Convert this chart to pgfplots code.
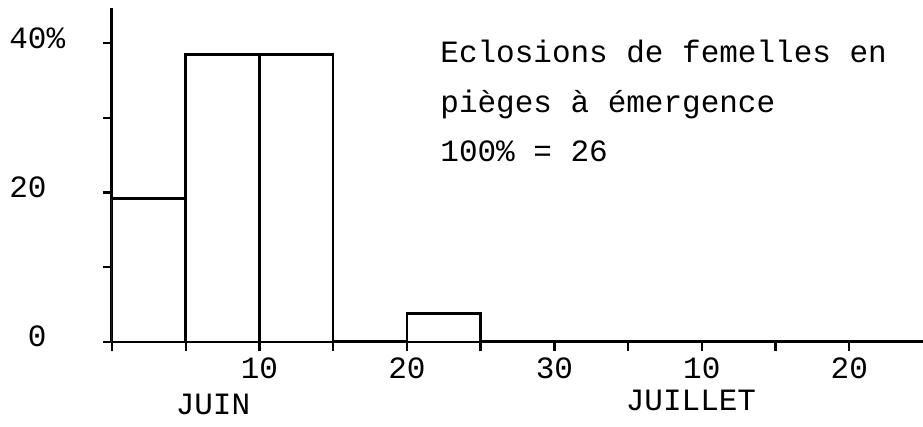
\documentclass[border=0pt]{standalone}
\usepackage{pgfplots}
\pgfplotsset{compat=1.18}
\usepackage{fontspec}
\setmainfont{Liberation Mono}
\newcommand{\tw}{\fontsize{15.5}{18}\selectfont}
\begin{document}
\begin{tikzpicture}
\useasboundingbox (-56pt,-42.5pt) rectangle (405.5pt,171pt);
\begin{axis}[
  at={(0,0)}, anchor=south west,
  scale only axis, width=405.5pt, height=167pt,
  xmin=0, xmax=55, ymin=0, ymax=44.7,
  axis lines=left, axis line style={-, line width=1.5pt},
  tick style={line width=1.2pt, black},
  tick align=outside, major tick length=4.5pt,
  xtick={0,5,...,50},
  xticklabels={,,10,,20,,30,,10,,20},
  ytick={0,10,20,30,40},
  yticklabels={0,,20,,40\rlap{\%}},
  /pgf/number format/assume math mode=true,
  every tick label/.append style={font=\tw, inner sep=0pt},
  xticklabel style={anchor=base, yshift=-14pt},
  yticklabel style={anchor=base east, xshift=-28pt, yshift=-2.5pt},
  ybar, bar width=5, bar shift=0pt,
]
\addplot[draw=black, fill=white, line width=1.3pt] coordinates {
  (2.5,19.23) (7.5,38.46) (12.5,38.46) (22.5,3.85)
};
\end{axis}
\node[font=\tw, anchor=base west, inner sep=0pt] at (164pt,139.5pt) {Eclosions de femelles en};
\node[font=\tw, anchor=base west, inner sep=0pt] at (164pt,114.75pt) {pièges à émergence};
\node[font=\tw, anchor=base west, inner sep=0pt] at (164pt,90pt) {100\% = 26};
\node[font=\tw, anchor=base, inner sep=0pt] at (50.5pt,-36.5pt) {JUIN};
\node[font=\tw, anchor=base, inner sep=0pt] at (289.5pt,-34.5pt) {JUILLET};
\end{tikzpicture}
\end{document}
